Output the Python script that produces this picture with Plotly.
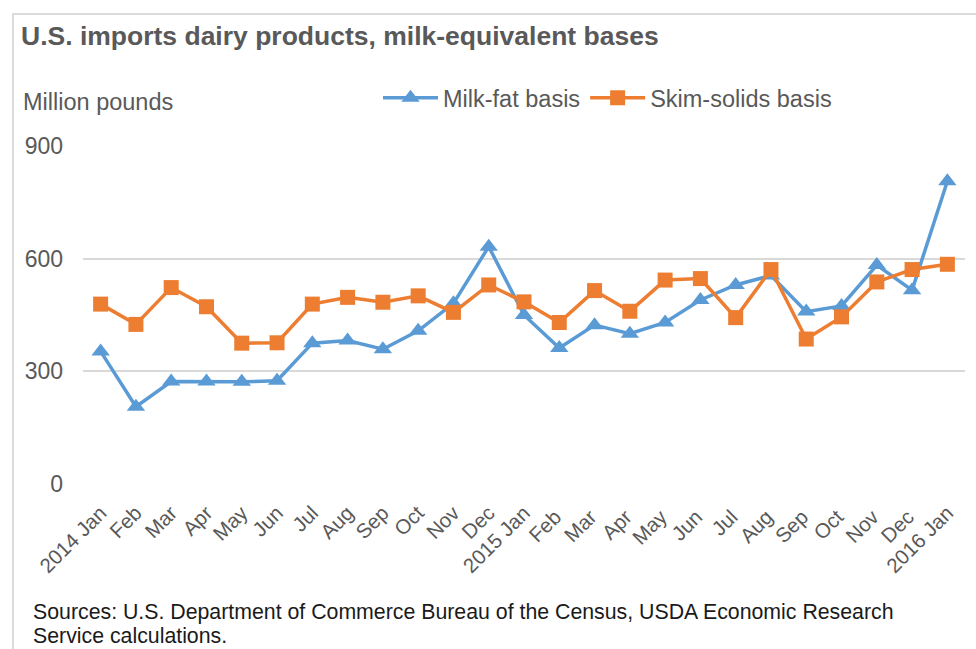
import plotly.graph_objects as go

months = ["2014 Jan", "Feb", "Mar", "Apr", "May", "Jun", "Jul", "Aug", "Sep", "Oct", "Nov", "Dec",
          "2015 Jan", "Feb ", "Mar ", "Apr ", "May ", "Jun ", "Jul ", "Aug ", "Sep ", "Oct ", "Nov ", "Dec ",
          "2016 Jan"]
milk_fat = [353, 206, 273, 273, 272, 275, 375, 382, 359, 408, 481, 632,
            450, 362, 423, 400, 430, 490, 530, 555, 459, 474, 583, 516, 806]
skim_solids = [479, 425, 523, 472, 375, 376, 479, 497, 484, 501, 457, 530,
               485, 430, 515, 460, 543, 547, 443, 571, 386, 445, 538, 571, 585]
y_ticks = [0, 300, 600, 900]
source_lines = ["Sources: U.S. Department of Commerce Bureau of the Census, USDA Economic Research",
                "Service calculations."]

W, H = 976, 649
L, R, T, B = 83, 11, 146, 165
pw, ph = W - L - R, H - T - B


def px(x):
    return (x - L) / pw


def py(y):
    return (H - B - y) / ph


FONT = "Liberation Sans, Arial, sans-serif"
GRAY = "#595959"

fig = go.Figure()
fig.add_trace(go.Scatter(x=months, y=milk_fat, name="Milk-fat basis", mode="lines+markers",
                         line=dict(color="#5B9BD5", width=3.5),
                         marker=dict(symbol="triangle-up", size=16, color="#5B9BD5")))
fig.add_trace(go.Scatter(x=months, y=skim_solids, name="Skim-solids basis", mode="lines+markers",
                         line=dict(color="#ED7D31", width=3.5),
                         marker=dict(symbol="square", size=15, color="#ED7D31")))

annotations = [
    dict(text="Million pounds", xref="paper", yref="paper", x=px(21), y=py(102),
         xanchor="left", yanchor="middle", showarrow=False,
         font=dict(size=23.5, color=GRAY, family=FONT)),
]
for i, line in enumerate(source_lines):
    annotations.append(dict(text=line, xref="paper", yref="paper", x=px(31), y=py(612 + 24 * i),
                            xanchor="left", yanchor="middle", showarrow=False,
                            font=dict(size=21.3, color="#1a1a1a", family=FONT)))

fig.update_layout(
    width=W, height=H,
    margin=dict(l=L, r=R, t=T, b=B, autoexpand=False),
    paper_bgcolor="white", plot_bgcolor="white",
    font=dict(family=FONT, color=GRAY),
    title=dict(text="<b>U.S. imports dairy products, milk-equivalent bases</b>",
               x=21 / W, xanchor="left", xref="container",
               y=1 - 36 / H, yanchor="middle", yref="container",
               font=dict(size=26.5, color=GRAY, family=FONT)),
    showlegend=True,
    legend=dict(orientation="h", x=px(378), xanchor="left", y=py(98), yanchor="middle",
                font=dict(size=23.5, color=GRAY, family=FONT), bgcolor="rgba(0,0,0,0)",
                itemwidth=55, tracegroupgap=0),
    xaxis=dict(type="category", range=[-0.5, len(months) - 0.5], autorange=False,
               showgrid=False, showline=False, zeroline=False, automargin=False,
               tickangle=-45, tickfont=dict(size=20.5, color=GRAY, family=FONT),
               ticks="", ticklabelstandoff=12),
    yaxis=dict(range=[0, 900], autorange=False, tickvals=y_ticks, showgrid=True,
               gridcolor="#D9D9D9", gridwidth=1.5, automargin=False,
               zeroline=False, showline=False, ticks="",
               tickfont=dict(size=23, color=GRAY, family=FONT), ticklabelstandoff=19),
    shapes=[dict(type="rect", xref="paper", yref="paper",
                 x0=px(13), x1=px(1000), y0=py(700), y1=py(14),
                 line=dict(color="#D0D0D0", width=1.5), fillcolor="rgba(0,0,0,0)", layer="below")],
    annotations=annotations,
)

fig.write_html("out.html")
